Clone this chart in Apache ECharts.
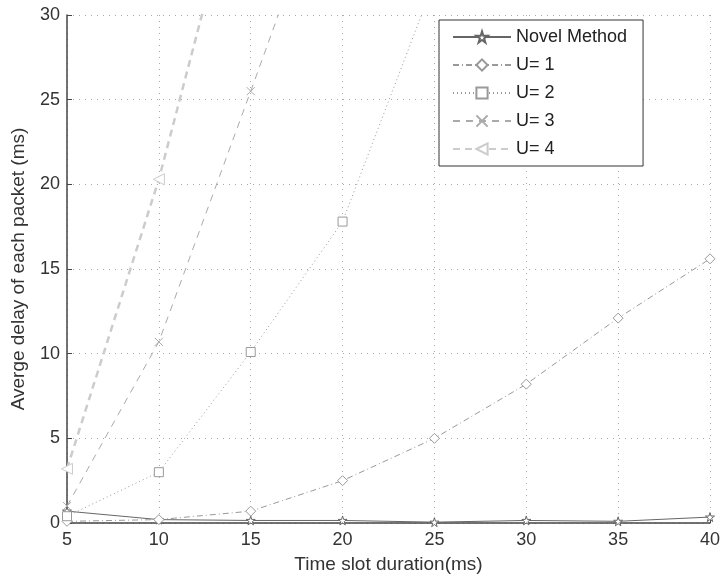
<!DOCTYPE html>
<html>
<head>
<meta charset="utf-8">
<script src="https://cdn.jsdelivr.net/npm/echarts@6/dist/echarts.min.js"></script>
<style>html,body{margin:0;padding:0;background:#fff}#c{width:723px;height:579px}</style>
</head>
<body>
<div id="c"></div>
<script>
const xValues = [5, 10, 15, 20, 25, 30, 35, 40];
const novelMethod = [0.7, 0.2, 0.15, 0.15, 0.05, 0.15, 0.1, 0.35];
const u1 = [0.1, 0.2, 0.7, 2.5, 5.0, 8.2, 12.1, 15.6];
const u2 = [0.4, 3.0, 10.1, 17.8, 32.0];
const u3 = [1.0, 10.7, 25.5, 40.5];
const u4 = [3.2, 20.3, 41.0];
const seriesNames = ['Novel Method', 'U= 1', 'U= 2', 'U= 3', 'U= 4'];
const yTicks = [0, 5, 10, 15, 20, 25, 30];

const pairs = arr => arr.map((v, i) => [xValues[i], v]);
const starPath = 'path://M50,0 L61,35 L98,35 L68,57 L79,91 L50,70 L21,91 L32,57 L2,35 L39,35 Z';
const xPath = 'path://M0,0 L10,10 M10,0 L0,10';
const leftTri = 'path://M0,50 L100,0 L100,100 Z';
const FONT = 'Liberation Sans, Arial, sans-serif';

function mk(name, data, color, type, width, symbol, size) {
  return {
    name, type: 'line', data: pairs(data), clip: true,
    symbol, symbolSize: size, showSymbol: true,
    lineStyle: { color, type, width },
    itemStyle: { color: '#fff', borderColor: color, borderWidth: 1 },
    emphasis: { disabled: true },
    z: 3
  };
}

const chart = echarts.init(document.getElementById('c'));
chart.setOption({
  animation: false,
  backgroundColor: '#fff',
  grid: { left: 67, right: 11, top: 15, bottom: 55 },
  legend: {
    orient: 'vertical', left: 439, top: 20,
    backgroundColor: '#fff', borderColor: '#333', borderWidth: 1,
    padding: [8, 16, 8, 13], itemWidth: 58, itemHeight: 14, itemGap: 10,
    textStyle: { fontSize: 18, color: '#222', fontFamily: FONT },
    data: seriesNames
  },
  xAxis: {
    type: 'value', min: 5, max: 40, interval: 5,
    name: 'Time slot duration(ms)', nameLocation: 'middle', nameGap: 32,
    nameTextStyle: { fontSize: 19, color: '#333', fontFamily: FONT },
    axisLine: { show: true, onZero: false, lineStyle: { color: '#444', width: 1.5 } },
    axisTick: { show: true, inside: true, length: 5, lineStyle: { color: '#444' } },
    axisLabel: { fontSize: 18, color: '#333', margin: 8, fontFamily: FONT },
    splitLine: { show: true, lineStyle: { color: '#aaa', type: [1, 5], width: 1 } }
  },
  yAxis: {
    type: 'value', min: 0, max: 30, interval: 5,
    name: 'Averge delay of each packet (ms)', nameLocation: 'middle', nameGap: 39,
    nameTextStyle: { fontSize: 19, color: '#333', fontFamily: FONT },
    axisLine: { show: true, onZero: false, lineStyle: { color: '#444', width: 1.5 } },
    axisTick: { show: true, inside: true, length: 5, lineStyle: { color: '#444' } },
    axisLabel: { fontSize: 18, color: '#333', margin: 7, fontFamily: FONT,
      formatter: v => yTicks.includes(v) ? String(v) : '' },
    splitLine: { show: true, lineStyle: { color: '#aaa', type: [1, 5], width: 1 } }
  },
  series: [
    mk(seriesNames[0], novelMethod, '#666', 'solid', 1, starPath, 9),
    mk(seriesNames[1], u1, '#999', [6, 3, 1, 3], 1, 'diamond', 10),
    mk(seriesNames[2], u2, '#999', [1, 3], 1, 'rect', 9),
    mk(seriesNames[3], u3, '#aaa', [7, 6], 1, xPath, 8),
    mk(seriesNames[4], u4, '#ccc', [7, 5], 2.5, leftTri, 11)
  ]
});
</script>
</body>
</html>
